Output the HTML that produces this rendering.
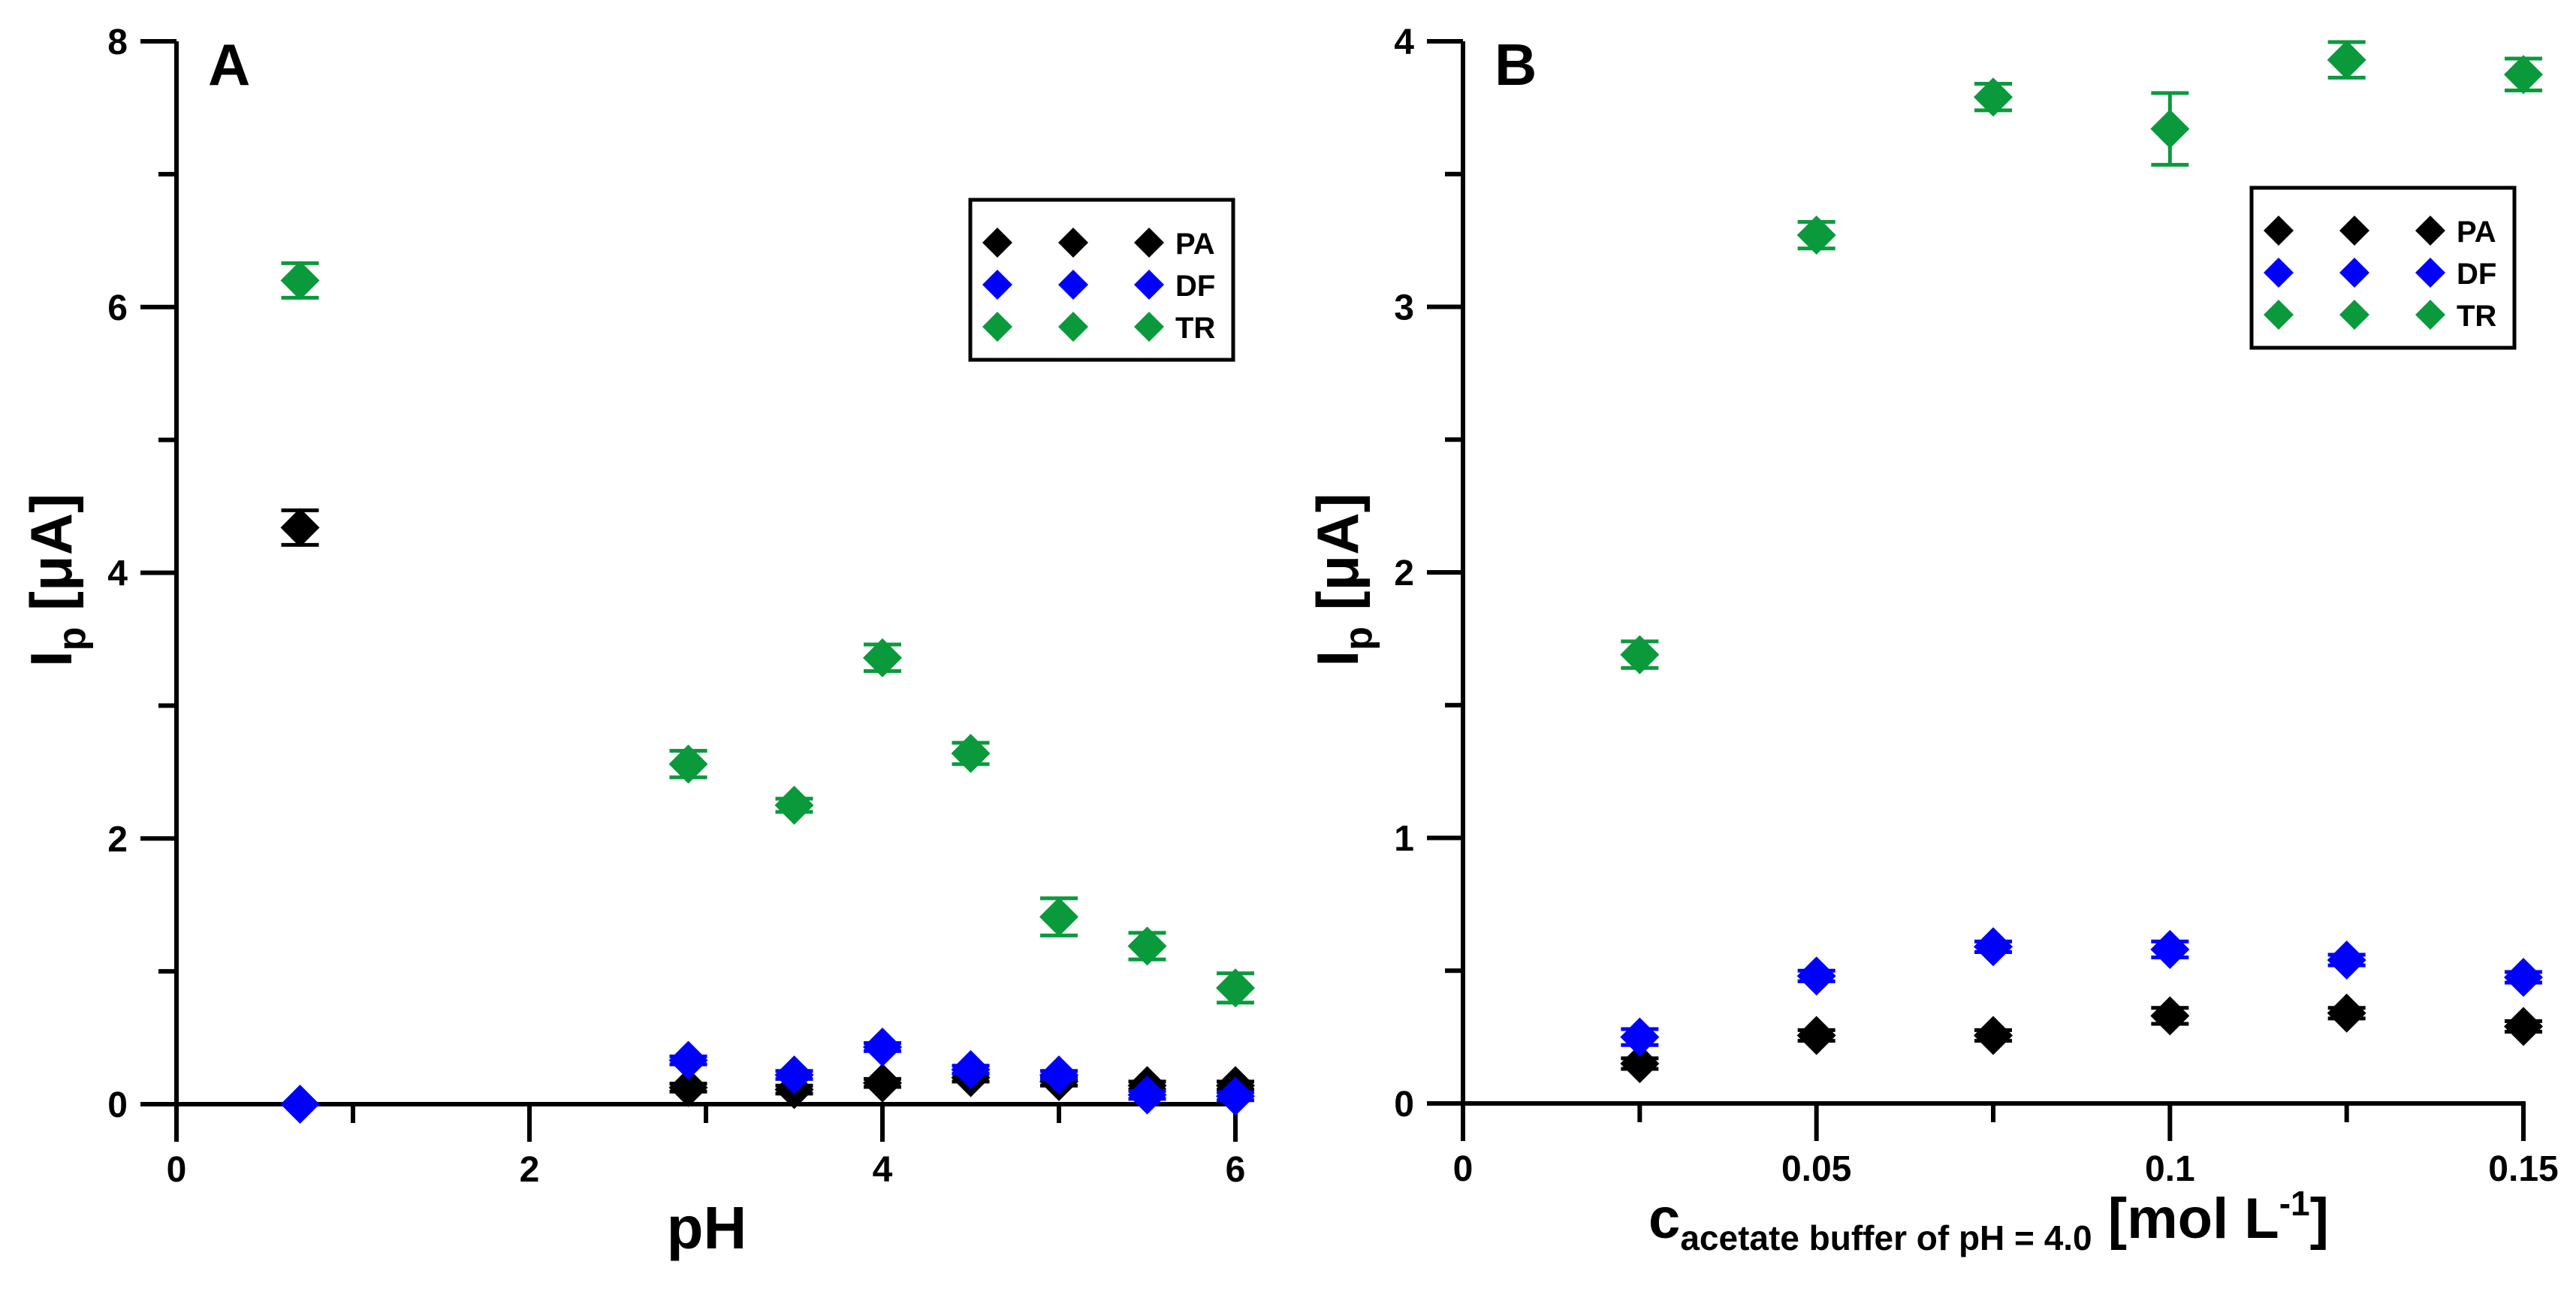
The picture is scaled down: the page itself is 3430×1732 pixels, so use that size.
<!DOCTYPE html>
<html><head><meta charset="utf-8"><style>
html,body{margin:0;padding:0;background:#fff}
svg{display:block}
text{font-family:"Liberation Sans",Arial,sans-serif;font-weight:bold;fill:#000}
</style></head><body>
<svg id="chart" width="3430" height="1732" viewBox="0 0 3430 1732" xmlns="http://www.w3.org/2000/svg"></svg>
<script>
// Panel A data (pH)
const phX = [0.7, 2.9, 3.5, 4, 4.5, 5, 5.5, 6];
const phPA = [4.34, 0.125, 0.11, 0.16, 0.2, 0.17, 0.14, 0.14];
const phPAerr = [0.13, 0.03, 0.03, 0.03, 0.03, 0.03, 0.03, 0.03];
const phDF = [0, 0.33, 0.22, 0.43, 0.26, 0.22, 0.07, 0.06];
const phDFerr = [0, 0.03, 0.03, 0.03, 0.03, 0.03, 0.03, 0.03];
const phTR = [6.2, 2.56, 2.25, 3.36, 2.64, 1.41, 1.19, 0.875];
const phTRerr = [0.13, 0.1, 0.05, 0.1, 0.08, 0.14, 0.1, 0.11];
const phXTicks = ["0", "2", "4", "6"];
const phYTicks = ["0", "2", "4", "6", "8"];
// Panel B data (buffer concentration)
const cX = [0.025, 0.05, 0.075, 0.1, 0.125, 0.15];
const cPA = [0.15, 0.256, 0.256, 0.33, 0.34, 0.29];
const cPAerr = [0.02, 0.02, 0.02, 0.03, 0.02, 0.02];
const cDF = [0.25, 0.48, 0.59, 0.58, 0.54, 0.475];
const cDFerr = [0.03, 0.02, 0.02, 0.03, 0.02, 0.02];
const cTR = [1.69, 3.27, 3.79, 3.67, 3.93, 3.875];
const cTRerr = [0.05, 0.05, 0.05, 0.135, 0.067, 0.06];
const cXTicks = ["0", "0.05", "0.1", "0.15"];
const cYTicks = ["0", "1", "2", "3", "4"];
const seriesNames = ["PA", "DF", "TR"];

const NS = "http://www.w3.org/2000/svg";
const svg = document.getElementById("chart");
const COL = {PA: "#000000", DF: "#0000ff", TR: "#0a9a3c"};
function el(tag, attrs, parent) {
  const e = document.createElementNS(NS, tag);
  for (const k in attrs) e.setAttribute(k, attrs[k]);
  (parent || svg).appendChild(e);
  return e;
}
function diamond(g, cx, cy, r, color) {
  return el("polygon", {points: `${cx},${cy - r} ${cx + r},${cy} ${cx},${cy + r} ${cx - r},${cy}`, fill: color}, g);
}

function panel(cfg) {
  const g = el("g", {});
  
  
  const sx = v => cfg.x0 + (v - cfg.xmin) / (cfg.xmax - cfg.xmin) * (cfg.x1 - cfg.x0);
  const sy = v => cfg.y0 - (v - cfg.ymin) / (cfg.ymax - cfg.ymin) * (cfg.y0 - cfg.y1);
  const ax = el("g", {}, g);
  
  
  el("line", {x1: cfg.x0, y1: cfg.y1, x2: cfg.x0, y2: cfg.y0 + 50, stroke: "#000", "stroke-width": 6}, ax);
  el("line", {x1: cfg.x0 - 48, y1: cfg.y0, x2: cfg.x1 + 3, y2: cfg.y0, stroke: "#000", "stroke-width": 6}, ax);
  el("line", {x1: cfg.x0 - 48, y1: cfg.y1, x2: cfg.x0, y2: cfg.y1, stroke: "#000", "stroke-width": 6}, ax);
  const nx = cfg.xTicks.length;
  for (let i = 0; i < nx; i++) {
    const v = parseFloat(cfg.xTicks[i]);
    const x = sx(v);
    el("line", {x1: x, y1: cfg.y0, x2: x, y2: cfg.y0 + 50, stroke: "#000", "stroke-width": 6}, ax);
    const t = el("text", {x: x, y: cfg.y0 + 103, "font-size": 48, "text-anchor": "middle"}, ax);
    
    
    t.textContent = cfg.xTicks[i];
    if (i < nx - 1) {
      const xm = sx((v + parseFloat(cfg.xTicks[i + 1])) / 2);
      el("line", {x1: xm, y1: cfg.y0, x2: xm, y2: cfg.y0 + 25, stroke: "#000", "stroke-width": 6}, ax);
    }
  }
  const ny = cfg.yTicks.length;
  for (let i = 0; i < ny; i++) {
    const v = parseFloat(cfg.yTicks[i]);
    const y = sy(v);
    el("line", {x1: cfg.x0 - 48, y1: y, x2: cfg.x0, y2: y, stroke: "#000", "stroke-width": 6}, ax);
    const t = el("text", {x: cfg.x0 - 65, y: y + 17, "font-size": 48, "text-anchor": "end"}, ax);
    
    
    t.textContent = cfg.yTicks[i];
    if (i < ny - 1) {
      const ym = sy((v + parseFloat(cfg.yTicks[i + 1])) / 2);
      el("line", {x1: cfg.x0 - 24, y1: ym, x2: cfg.x0, y2: ym, stroke: "#000", "stroke-width": 6}, ax);
    }
  }
  const L = el("text", {x: cfg.x0 + 42, y: cfg.y1 + 58, "font-size": 78}, g);
  
  
  L.textContent = cfg.letter;
  const yt = el("text", {transform: `translate(${cfg.x0 - 140},${(cfg.y0 + cfg.y1) / 2 + 10}) rotate(-90)`, "font-size": 78, "text-anchor": "middle"}, g);
  
  
  yt.innerHTML = 'I<tspan font-size="52" dy="18">p</tspan><tspan dy="-18"> [μA]</tspan>';
  const order = [["TR", cfg.tr, cfg.trErr], ["PA", cfg.pa, cfg.paErr], ["DF", cfg.df, cfg.dfErr]];
  for (const [nm, vals, errs] of order) {
    const sg = el("g", {}, g);
    
    
    for (let i = 0; i < vals.length; i++) {
      const x = sx(cfg.xs[i]), y = sy(vals[i]);
      const e = errs[i];
      if (e > 0) {
        const eg = el("g", {stroke: COL[nm], "stroke-width": 5}, sg);
        
        
        const yt2 = sy(vals[i] + e), yb = sy(vals[i] - e);
        el("line", {x1: x, y1: yt2, x2: x, y2: yb}, eg);
        el("line", {x1: x - 25, y1: yt2, x2: x + 25, y2: yt2}, eg);
        el("line", {x1: x - 25, y1: yb, x2: x + 25, y2: yb}, eg);
      }
      const d = diamond(sg, x, y, 26, COL[nm]);
      
      
    }
  }
  const lg = el("g", {}, g);
  
  
  el("rect", {x: cfg.lx, y: cfg.ly, width: 350, height: 213, fill: "#fff", stroke: "#000", "stroke-width": 5}, lg);
  for (let r = 0; r < seriesNames.length; r++) {
    const nm = seriesNames[r];
    const en = el("g", {}, lg);
    
    
    const cy = cfg.ly + 57 + r * 56;
    for (let c = 0; c < 3; c++) diamond(en, cfg.lx + 36 + c * 101, cy, 20, COL[nm]);
    const t = el("text", {x: cfg.lx + 273, y: cy + 15, "font-size": 40}, en);
    t.textContent = nm;
  }
  return g;
}

panel({name: "panel-a", letter: "A", x0: 235, x1: 1645, y0: 1470, y1: 55, xmin: 0, xmax: 6, ymin: 0, ymax: 8,
  xTicks: phXTicks, yTicks: phYTicks, xs: phX, pa: phPA, paErr: phPAerr, df: phDF, dfErr: phDFerr, tr: phTR, trErr: phTRerr,
  lx: 1292, ly: 266});
panel({name: "panel-b", letter: "B", x0: 1948, x1: 3360, y0: 1469, y1: 55, xmin: 0, xmax: 0.15, ymin: 0, ymax: 4,
  xTicks: cXTicks, yTicks: cYTicks, xs: cX, pa: cPA, paErr: cPAerr, df: cDF, dfErr: cDFerr, tr: cTR, trErr: cTRerr,
  lx: 2998, ly: 250});

const xa = el("text", {x: 941, y: 1662, "font-size": 80, "text-anchor": "middle"});


xa.textContent = "pH";
const xb = el("text", {x: 2648, y: 1648, "font-size": 76, "text-anchor": "middle"});


xb.innerHTML = 'c<tspan font-size="46" dy="16">acetate buffer of pH = 4.0</tspan><tspan dy="-16"> [mol L</tspan><tspan font-size="46" dy="-30">-1</tspan><tspan dy="30">]</tspan>';
</script>
</body></html>
